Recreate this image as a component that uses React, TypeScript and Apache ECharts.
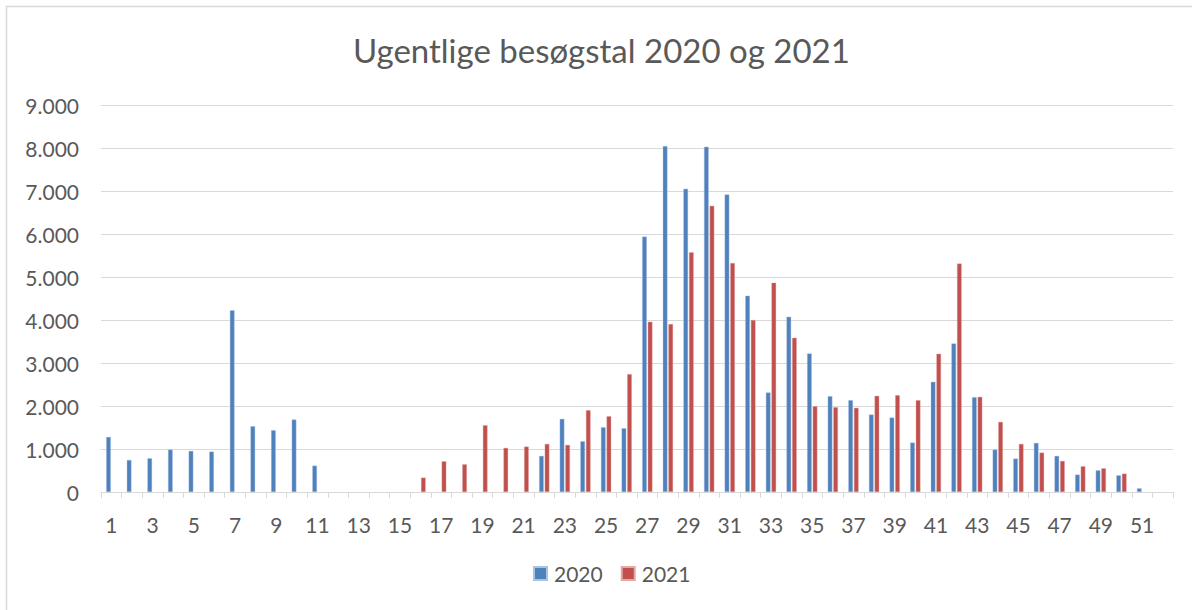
import React, { useEffect, useRef } from "react";
import * as echarts from "echarts";

const weeks: string[] = Array.from({ length: 52 }, (_, i) => String(i + 1));

const visits2020: number[] = [
  1280, 745, 784, 986, 955, 939, 4224, 1530, 1436, 1685,
  613, 0, 0, 0, 0, 0, 0, 0, 0, 0,
  0, 839, 1700, 1180, 1506, 1483, 5939, 8043, 7050, 8028,
  6918, 4565, 2314, 4076, 3222, 2228, 2135, 1801, 1731, 1149,
  2562, 3455, 2205, 986, 776, 1141, 839, 404, 505, 388,
  85, 0,
];

const visits2021: number[] = [
  0, 0, 0, 0, 0, 0, 0, 0, 0, 0,
  0, 0, 0, 0, 0, 334, 714, 644, 1553, 1025,
  1056, 1118, 1095, 1902, 1762, 2741, 3960, 3905, 5575, 6654,
  5326, 3998, 4868, 3587, 1995, 1972, 1957, 2236, 2252, 2135,
  3214, 5311, 2213, 1630, 1118, 916, 722, 598, 551, 427,
  0, 0,
];

const seriesNames: string[] = ["2020", "2021"];
const titleText = "Ugentlige besøgstal 2020 og 2021";

const fmt = (v: number) =>
  String(Math.round(v)).replace(/\B(?=(\d{3})+(?!\d))/g, ".");

const noZero = (arr: number[]) => arr.map((v) => (v === 0 ? null : v));

export default function App() {
  const ref = useRef<HTMLDivElement>(null);
  useEffect(() => {
    if (!ref.current) return;
    const chart = echarts.init(ref.current, undefined, { renderer: "svg" });
    const font = "Lato, 'Open Sans', sans-serif";
    chart.setOption({
      animation: false,
      backgroundColor: "#ffffff",
      textStyle: { fontFamily: font },
      title: {
        text: titleText,
        left: 348,
        top: 28,
        textStyle: { fontFamily: font, fontSize: 33, fontWeight: "normal", color: "#595959" },
      },
      legend: {
        data: seriesNames,
        bottom: 21,
        left: 528,
        itemWidth: 13,
        itemHeight: 13,
        itemGap: 18,
        icon: "rect",
        textStyle: { fontFamily: font, fontSize: 21, color: "#595959", padding: [0, 0, 0, 2] },
      },
      grid: { left: 101, right: 19, top: 105, bottom: 118, containLabel: false },
      xAxis: {
        type: "category",
        data: weeks,
        boundaryGap: true,
        axisLine: { show: true, lineStyle: { color: "#d9d9d9", width: 1 } },
        axisTick: { show: true, alignWithLabel: false, interval: 0, length: 6, lineStyle: { color: "#d9d9d9" } },
        axisLabel: { interval: 1, color: "#595959", fontSize: 21, margin: 22, fontFamily: font },
      },
      yAxis: {
        type: "value",
        min: 0,
        max: 9000,
        interval: 1000,
        axisLine: { show: false },
        axisTick: { show: false },
        splitLine: { lineStyle: { color: "#d9d9d9", width: 1 } },
        axisLabel: { color: "#595959", fontSize: 21, margin: 22, formatter: fmt, fontFamily: font },
      },
      series: [
        {
          name: seriesNames[0],
          type: "bar",
          data: noZero(visits2020),
          barWidth: 4.6,
          barGap: "22%",
          itemStyle: { color: "#4f81bd", borderColor: "#a9c3e3", borderWidth: 0.4 },
        },
        {
          name: seriesNames[1],
          type: "bar",
          data: noZero(visits2021),
          barWidth: 4.6,
          itemStyle: { color: "#c0504d", borderColor: "#e3a9a8", borderWidth: 0.4 },
        },
      ],
      graphic: [
        {
          type: "polyline",
          shape: { points: [[6.5, 610], [6.5, 6.5], [1192, 6.5]] },
          style: { fill: "none", stroke: "#d9d9d9", lineWidth: 1.5 },
          silent: true,
        },
      ],
    });
    return () => chart.dispose();
  }, []);
  return (
    <div
      ref={ref}
      style={{ position: "fixed", left: 0, top: 0, width: 1192, height: 610 }}
    />
  );
}
